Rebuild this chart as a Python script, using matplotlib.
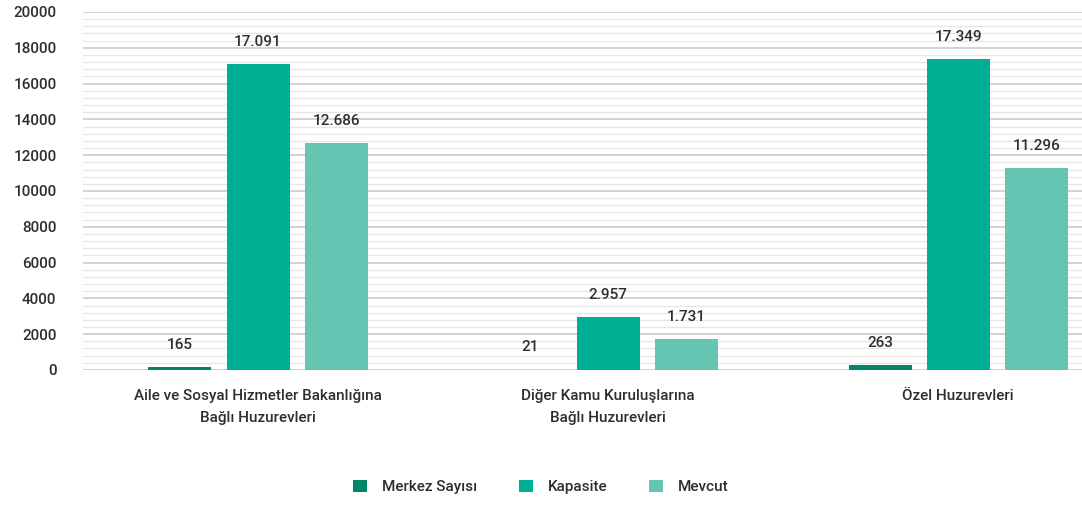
import matplotlib.pyplot as plt
import numpy as np
from matplotlib.ticker import MultipleLocator

plt.rcParams['font.family'] = ['Roboto', 'DejaVu Sans']
plt.rcParams['font.weight'] = 'medium'

kategoriler = ["Aile ve Sosyal Hizmetler Bakanlığına\nBağlı Huzurevleri",
               "Diğer Kamu Kuruluşlarına\nBağlı Huzurevleri",
               "Özel Huzurevleri"]
seriler = ["Merkez Sayısı", "Kapasite", "Mevcut"]
merkez = [165, 21, 263]
kapasite = [17091, 2957, 17349]
mevcut = [12686, 1731, 11296]
renkler = ["#00886c", "#00ae94", "#64c5b2"]


def tr_format(v):
    return "{:,}".format(v).replace(",", ".")


fig = plt.figure(figsize=(10.82, 5.08), dpi=100)
ax = fig.add_axes([0.0767, 0.2717, 0.9233, 0.7047])

x = np.arange(len(kategoriler))
w = 0.18
ofs = 0.223
for i, (ad, vals) in enumerate(zip(seriler, [merkez, kapasite, mevcut])):
    pos = x + (i - 1) * ofs
    ax.bar(pos, vals, w, color=renkler[i], label=ad, zorder=3)
    for p, v in zip(pos, vals):
        ax.annotate(tr_format(v), (p, v), xytext=(0, 11), textcoords="offset points",
                    ha="center", va="bottom", fontsize=11, color="#2e2e2e")

ax.set_xlim(-0.5, 2.354)
ax.set_ylim(0, 20000)
ax.yaxis.set_major_locator(MultipleLocator(2000))
ax.yaxis.set_minor_locator(MultipleLocator(400))
ax.grid(True, which="major", axis="y", color="#d2d2d2", linewidth=1.4, zorder=0)
ax.grid(True, which="minor", axis="y", color="#e6e6e6", linewidth=0.9, zorder=0)
ax.set_axisbelow(True)
for s in ax.spines.values():
    s.set_visible(False)
ax.tick_params(axis="y", which="both", length=0, pad=19, labelsize=11, labelcolor="#2e2e2e")
ax.tick_params(axis="x", length=0, pad=14, labelsize=11, labelcolor="#2e2e2e")
ax.set_xticks(x)
ax.set_xticklabels(kategoriler, linespacing=1.7)

fig.legend(loc="lower center", bbox_to_anchor=(0.5, 0.0), ncol=3, frameon=False,
           fontsize=11, handlelength=0.9, handleheight=0.9, handletextpad=1.0,
           columnspacing=2.7, labelcolor="#2e2e2e")

fig.savefig("out.png", dpi=100)
